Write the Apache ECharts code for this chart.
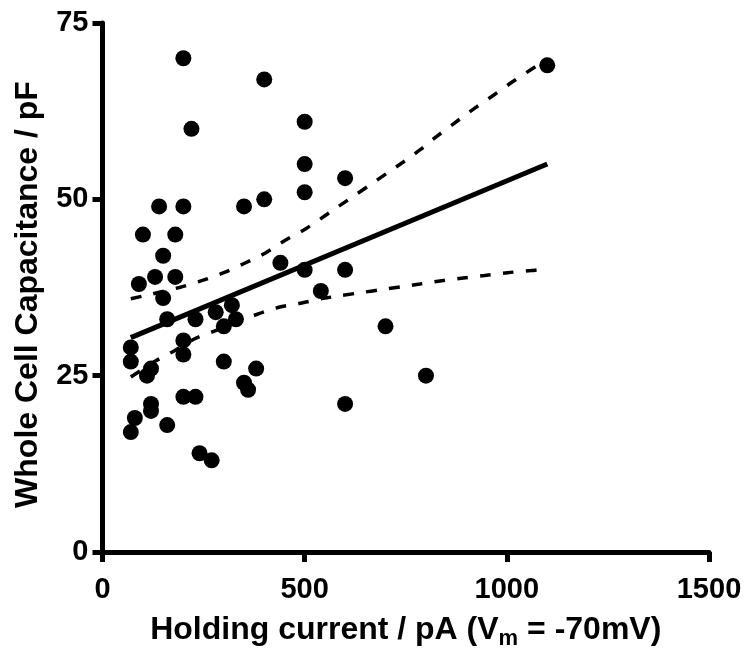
<!DOCTYPE html>
<html>
<head>
<meta charset="utf-8">
<script src="https://cdn.jsdelivr.net/npm/echarts@6/dist/echarts.min.js"></script>
<style>
  html, body { margin: 0; padding: 0; background: #fff; }
  #chart { width: 746px; height: 648px; }
</style>
</head>
<body>
<div id="chart"></div>
<script>
// Holding current (pA) and whole cell capacitance (pF) for each cell
const holdingCurrent = [200, 400, 220, 500, 500, 500, 600, 140, 200, 350, 400, 100, 180, 150, 440, 500, 600, 90, 130, 180, 540, 150, 160, 230, 280, 320, 330, 300, 70, 70, 200, 200, 120, 110, 300, 380, 350, 360, 120, 120, 80, 70, 160, 200, 230, 240, 270, 600, 700, 800, 1100];
const capacitance    = [70, 67, 60, 61, 55, 51, 53, 49, 49, 49, 50, 45, 45, 42, 41, 40, 40, 38, 39, 39, 37, 36, 33, 33, 34, 35, 33, 32, 29, 27, 30, 28, 26, 25, 27, 26, 24, 23, 21, 20, 19, 17, 18, 22, 22, 14, 13, 21, 32, 25, 69];

// Linear regression line
const fitX = [70, 1100];
const fitY = [30.4, 55.0];

// 95% confidence band
const upperX = [70, 190, 247, 300, 350, 403, 452, 502, 551, 584, 744, 785, 826, 875, 920, 968, 1015, 1060, 1100];
const upperY = [35.9, 37.5, 38.5, 39.6, 40.9, 42.4, 44.2, 45.8, 47.7, 49.0, 55.3, 57.0, 58.9, 61.0, 62.9, 64.8, 66.7, 68.4, 69.9];
const lowerX = [70, 132, 177, 227, 280, 387, 436, 493, 551, 785, 830, 887, 945, 1002, 1060, 1100];
const lowerY = [24.8, 27.1, 28.5, 30.2, 31.4, 33.8, 34.7, 35.3, 36.0, 38.0, 38.4, 38.8, 39.2, 39.6, 39.9, 40.2];

// Axis ticks
const xTicks = [0, 500, 1000, 1500];
const yTicks = [0, 25, 50, 75];

const zip = (a, b) => a.map((v, i) => [v, b[i]]);
const FONT = 'Liberation Sans, Arial, Helvetica, sans-serif';

const chart = echarts.init(document.getElementById('chart'), null, { renderer: 'canvas' });
chart.setOption({
  animation: false,
  backgroundColor: '#fff',
  grid: { left: 102.5, right: 37, top: 23, bottom: 96, containLabel: false, outerBoundsMode: 'none' },
  xAxis: {
    type: 'value',
    min: xTicks[0], max: xTicks[xTicks.length - 1], interval: 500,
    splitLine: { show: false },
    axisLine: { show: true, lineStyle: { color: '#000', width: 5 } },
    axisTick: { show: true, inside: false, length: 10, lineStyle: { color: '#000', width: 5 } },
    axisLabel: { color: '#000', fontFamily: FONT, fontWeight: 'bold', fontSize: 29, margin: 23, formatter: v => String(v) },
    name: '{a|Holding current / pA (V}{s|m}{a| = -70mV)}',
    nameLocation: 'middle',
    nameGap: 62,
    nameTextStyle: {
      rich: {
        a: { color: '#000', fontFamily: FONT, fontWeight: 'bold', fontSize: 32, verticalAlign: 'top', lineHeight: 34 },
        s: { color: '#000', fontFamily: FONT, fontWeight: 'bold', fontSize: 22, verticalAlign: 'top', lineHeight: 26, padding: [14, 0, 0, 0] }
      }
    }
  },
  yAxis: {
    type: 'value',
    min: yTicks[0], max: yTicks[yTicks.length - 1], interval: 25,
    splitLine: { show: false },
    axisLine: { show: true, lineStyle: { color: '#000', width: 5 } },
    axisTick: { show: true, inside: false, length: 10, lineStyle: { color: '#000', width: 5 } },
    axisLabel: { color: '#000', fontFamily: FONT, fontWeight: 'bold', fontSize: 29, margin: 14, formatter: v => String(v) },
    name: 'Whole Cell Capacitance / pF',
    nameLocation: 'middle',
    nameGap: 58,
    nameTextStyle: { color: '#000', fontFamily: FONT, fontWeight: 'bold', fontSize: 32, padding: [0, 14, 0, 0] }
  },
  series: [
    {
      type: 'line', data: zip(upperX, upperY), smooth: 0.3, symbol: 'none', z: 2,
      lineStyle: { color: '#000', width: 3.5, type: [11, 12] }
    },
    {
      type: 'line', data: zip(lowerX, lowerY), smooth: 0.3, symbol: 'none', z: 2,
      lineStyle: { color: '#000', width: 3.5, type: [11, 12] }
    },
    {
      type: 'line', data: zip(fitX, fitY), symbol: 'none', z: 3,
      lineStyle: { color: '#000', width: 5 }
    },
    {
      type: 'scatter', data: zip(holdingCurrent, capacitance), symbol: 'circle', symbolSize: 16, z: 4,
      itemStyle: { color: '#000', opacity: 1 }
    }
  ]
});
</script>
</body>
</html>
